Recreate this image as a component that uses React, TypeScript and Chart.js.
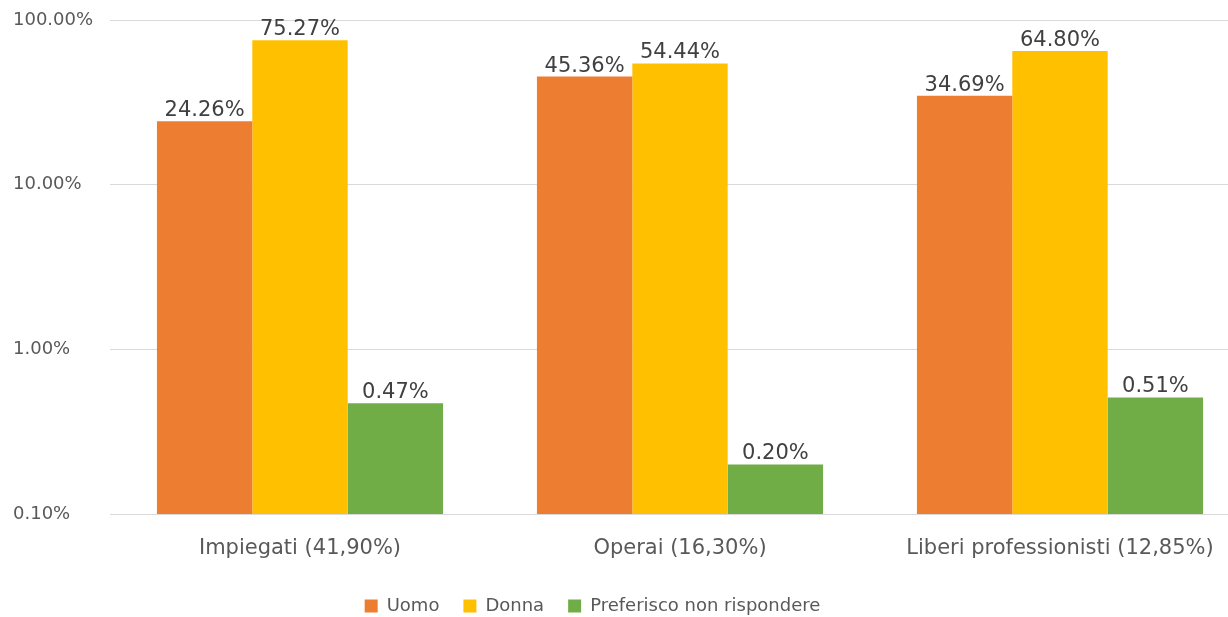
import React, { useEffect, useRef } from "react";
import { Chart, registerables } from "chart.js";

Chart.register(...registerables);

const categories = ["Impiegati (41,90%)", "Operai (16,30%)", "Liberi professionisti (12,85%)"];
const uomo = [24.26, 45.36, 34.69];
const donna = [75.27, 54.44, 64.8];
const preferisco = [0.47, 0.2, 0.51];
const yTicks = [0.1, 1, 10, 100];

const FONT = "'DejaVu Sans', sans-serif";

const dataLabelPlugin = {
  id: "dataLabels",
  afterDatasetsDraw(chart: any) {
    const ctx = chart.ctx;
    ctx.save();
    ctx.font = `21px ${FONT}`;
    ctx.fillStyle = "#404040";
    ctx.textAlign = "center";
    ctx.textBaseline = "alphabetic";
    chart.data.datasets.forEach((ds: any, i: number) => {
      const meta = chart.getDatasetMeta(i);
      meta.data.forEach((el: any, j: number) => {
        const v = ds.data[j] as number;
        ctx.fillText(v.toFixed(2) + "%", el.x, el.y - 5);
      });
    });
    ctx.restore();
  },
};

const legendShiftPlugin = {
  id: "legendShift",
  afterLayout(chart: any) {
    const lg = chart.legend;
    if (lg) {
      lg.left -= 39;
      lg.right -= 39;
    }
  },
};

export default function App() {
  const ref = useRef<HTMLCanvasElement | null>(null);
  useEffect(() => {
    document.body.style.margin = "0";
    document.body.style.overflow = "hidden";
    const chart = new Chart(ref.current as HTMLCanvasElement, {
      type: "bar",
      data: {
        labels: categories,
        datasets: [
          { label: "Uomo", data: uomo, backgroundColor: "#ED7D31" },
          { label: "Donna", data: donna, backgroundColor: "#FFC000" },
          { label: "Preferisco non rispondere", data: preferisco, backgroundColor: "#70AD47" },
        ],
      },
      options: {
        responsive: false,
        animation: false,
        layout: { padding: { left: 13, top: 20, right: 0, bottom: -8 } },
        datasets: { bar: { barPercentage: 1, categoryPercentage: 0.753 } },
        scales: {
          x: {
            grid: { display: false, drawTicks: false },
            border: { display: false },
            ticks: { color: "#595959", font: { family: FONT, size: 21 }, padding: 22 },
            afterFit: (s: any) => { s.height = 59; },
          },
          y: {
            type: "logarithmic",
            min: 0.1,
            max: 100,
            grid: { color: "#d9d9d9", drawTicks: false },
            border: { display: false },
            afterBuildTicks: (s: any) => { s.ticks = yTicks.map((v) => ({ value: v })); },
            afterFit: (s: any) => { s.width = 97; },
            ticks: {
              color: "#595959",
              font: { family: FONT, size: 18 },
              crossAlign: "far",
              callback: (v: any) => Number(v).toFixed(2) + "%",
            },
          },
        },
        plugins: {
          legend: {
            position: "bottom",
            labels: {
              boxWidth: 13,
              boxHeight: 13,
              padding: 24,
              color: "#595959",
              font: { family: FONT, size: 18 },
            },
          },
          tooltip: { enabled: false },
        },
      },
      plugins: [dataLabelPlugin, legendShiftPlugin],
    } as any);
    return () => chart.destroy();
  }, []);
  return (
    <div style={{ width: 1228, height: 617, overflow: "hidden", position: "relative" }}>
      <canvas ref={ref} width={1250} height={617} style={{ display: "block" }} />
    </div>
  );
}
